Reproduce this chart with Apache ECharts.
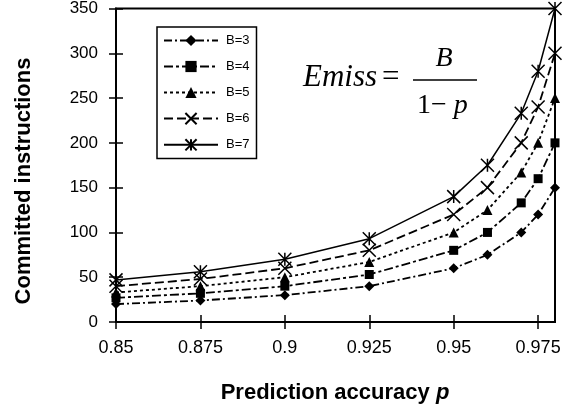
<!DOCTYPE html>
<html><head><meta charset="utf-8">
<script src="https://cdn.jsdelivr.net/npm/echarts@6/dist/echarts.min.js"></script>
<style>html,body{margin:0;padding:0;background:#fff}#c{width:570px;height:412px}</style>
</head><body><div id="c"></div>
<script>
const pVals = [0.85, 0.875, 0.9, 0.925, 0.95, 0.96, 0.97, 0.975, 0.98];
const b3 = [20, 24, 30, 40, 60, 75, 100, 120, 150];
const b4 = [27, 32, 40, 53, 80, 100, 133, 160, 200];
const b5 = [33, 40, 50, 67, 100, 125, 167, 200, 250];
const b6 = [40, 48, 60, 80, 120, 150, 200, 240, 300];
const b7 = [47, 56, 70, 93, 140, 175, 233, 280, 350];
const seriesNames = ['B=3', 'B=4', 'B=5', 'B=6', 'B=7'];
const xTitle = 'Prediction accuracy';
const yTitle = 'Committed instructions';

const chart = echarts.init(document.getElementById('c'));
const pairs = arr => pVals.map((p, i) => [p, arr[i]]);
const X = 'path://M0,0L10,10M10,0L0,10';
const AST = 'path://M0,0L10,10M10,0L0,10M5,0L5,10';
function mk(name, arr, symbol, size, dash, width, stroke) {
  return {
    name, type: 'line', data: pairs(arr), clip: false,
    symbol, symbolSize: size, showSymbol: true,
    lineStyle: { color: '#000', width, type: dash },
    itemStyle: stroke ? { color: '#000', borderColor: '#000', borderWidth: 1.5 } : { color: '#000', borderWidth: 0 },
    emphasis: { disabled: true }
  };
}
const font = 'Arial, "Liberation Sans", sans-serif';
const serif = '"Times New Roman", "Liberation Serif", serif';
const baseX = { type: 'value', min: 0.85, max: 0.98, interval: 0.025, splitLine: { show: false } };
const baseY = { type: 'value', min: 0, max: 350, interval: 50, splitLine: { show: false } };
chart.setOption({
  animation: false,
  grid: { left: 116, right: 15, top: 5, bottom: 90, show: true, borderColor: '#000', borderWidth: 2 },
  xAxis: [
    Object.assign({}, baseX, {
      axisLine: { lineStyle: { color: '#000', width: 2 } },
      axisTick: { length: 7, lineStyle: { color: '#000', width: 1.5 } },
      axisLabel: { color: '#000', fontSize: 18, fontFamily: font, margin: 17, showMaxLabel: false,
        formatter: v => String(+v.toFixed(3)) }
    }),
    Object.assign({}, baseX, {
      position: 'bottom',
      axisLine: { show: false },
      axisTick: { inside: true, length: 7, lineStyle: { color: '#000', width: 1.5 } },
      axisLabel: { show: false }
    })
  ],
  yAxis: [
    Object.assign({}, baseY, {
      axisLine: { lineStyle: { color: '#000', width: 2 } },
      axisTick: { length: 7, lineStyle: { color: '#000', width: 1.5 } },
      axisLabel: { color: '#000', fontSize: 17, fontFamily: font, margin: 18 }
    }),
    Object.assign({}, baseY, {
      position: 'left',
      axisLine: { show: false },
      axisTick: { inside: true, length: 7, lineStyle: { color: '#000', width: 1.5 } },
      axisLabel: { show: false }
    })
  ],
  legend: {
    orient: 'vertical', left: 157, top: 27,
    padding: [7, 7, 7, 6],
    itemWidth: 54, itemHeight: 14, itemGap: 13,
    borderColor: '#000', borderWidth: 1.5,
    textStyle: { color: '#000', fontSize: 13, fontFamily: font, padding: [0, 0, 0, 3] },
    data: seriesNames
  },
  series: [
    mk(seriesNames[0], b3, 'diamond', 10, [8, 3, 2, 3], 1.8, false),
    mk(seriesNames[1], b4, 'rect', 9, [9, 3, 3, 3], 1.8, false),
    mk(seriesNames[2], b5, 'triangle', 10, [3, 3], 1.8, false),
    mk(seriesNames[3], b6, X, 13, [9, 4], 1.8, true),
    mk(seriesNames[4], b7, AST, 13, 'solid', 1.5, true)
  ],
  graphic: [
    { type: 'text', x: 303, y: 77.5, style: { text: 'Emiss', font: 'italic 31px ' + serif, fill: '#000', verticalAlign: 'middle' } },
    { type: 'text', x: 382, y: 77.5, style: { text: '=', font: '31px ' + serif, fill: '#000', verticalAlign: 'middle' } },
    { type: 'text', x: 444, y: 58.5, style: { text: 'B', font: 'italic 28px ' + serif, fill: '#000', align: 'center', verticalAlign: 'middle' } },
    { type: 'line', shape: { x1: 413, y1: 80, x2: 477, y2: 80 }, style: { stroke: '#000', lineWidth: 1.5 } },
    { type: 'text', x: 417, y: 105.5, style: {
      text: '{n|1−}{i| p}', verticalAlign: 'middle', fill: '#000',
      rich: { n: { font: '28px ' + serif, fill: '#000' }, i: { font: 'italic 28px ' + serif, fill: '#000' } } } },
    { type: 'text', x: 24, y: 181, rotation: Math.PI / 2, style: {
      text: yTitle, font: 'bold 22px ' + font, fill: '#000', align: 'center', verticalAlign: 'middle' } },
    { type: 'text', x: 335, y: 393, style: {
      text: '{b|' + xTitle + ' }{i|p}', align: 'center', verticalAlign: 'middle', fill: '#000',
      rich: { b: { font: 'bold 22px ' + font, fill: '#000' }, i: { font: 'bold italic 22px ' + font, fill: '#000' } } } }
  ]
});
</script></body></html>
